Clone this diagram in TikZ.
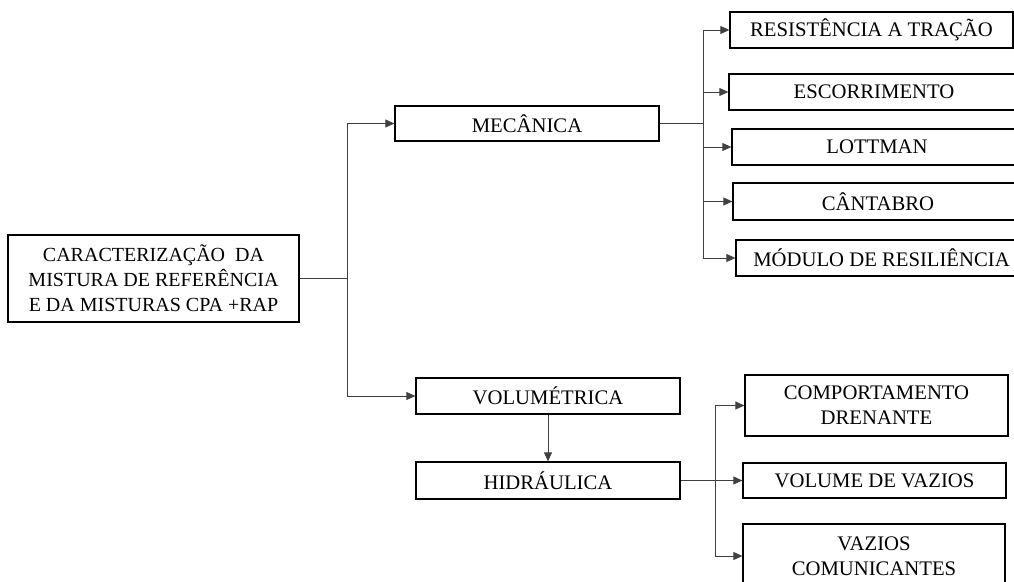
\documentclass[tikz,border=0pt]{standalone}
\usepackage{fontspec}
\setmainfont{Liberation Serif}
\usetikzlibrary{arrows.meta}
\begin{document}
\begin{tikzpicture}[x=1pt,y=-1pt,
  box/.style={draw=black,line width=1.3pt,fill=white,inner sep=0pt,align=center,
    font=\fontsize{20.7}{25}\selectfont},
  conn/.style={draw=black!75,line width=0.8pt},
  arr/.style={conn,-{Triangle[length=9pt,width=8pt]}}]
\useasboundingbox (0,0) rectangle (1014,581);
\clip (0,0) rectangle (1014,581);
% main boxes
\node[box,font=\fontsize{20}{25}\selectfont,minimum width=291,minimum height=87] (root) at (153.5,278.5)
  {CARACTERIZAÇÃO\ \ DA\\MISTURA DE REFERÊNCIA\\E DA MISTURAS CPA +RAP};
\node[box,minimum width=264,minimum height=35] (mec) at (527,123.5) {MECÂNICA};
\node[box,minimum width=264,minimum height=36] (vol) at (548,396) {VOLUMÉTRICA};
\node[box,minimum width=264,minimum height=37] (hid) at (548,480.5) {HIDRÁULICA};
% mechanical tests
\node[box,minimum width=283,minimum height=36] (res) at (871.5,30) {RESISTÊNCIA A TRAÇÃO};
\node[box,minimum width=290,minimum height=36] (esc) at (874,92) {ESCORRIMENTO};
\node[box,minimum width=290,minimum height=36] (lot) at (877,147) {LOTTMAN};
\node[box,minimum width=290,minimum height=37] (can) at (878,201.5) {CÂNTABRO};
\node[box,minimum width=291,minimum height=36] (mod) at (881.5,258) {MÓDULO DE RESILIÊNCIA};
% hydraulic tests
\node[box,minimum width=263,minimum height=61] (comp) at (876.5,405.5) {COMPORTAMENTO\\DRENANTE};
\node[box,minimum width=263,minimum height=35] (volv) at (874.5,480.5) {VOLUME DE VAZIOS};
\node[box,minimum width=262,minimum height=64] (vaz) at (874,556) {VAZIOS\\COMUNICANTES};
% junctions
\coordinate (rj) at (347,278.5);
\coordinate (mj) at (703,123.5);
\coordinate (hj) at (715,480.5);
% connectors
\draw[conn] (root.east) -- (rj);
\draw[arr] (rj) |- (mec.west);
\draw[arr] (rj) |- (vol.west);
\draw[arr] (vol.south) -- (hid.north);
\draw[conn] (mec.east) -- (mj);
\draw[arr] (mj) |- (res.west);
\draw[arr] (mj) |- (esc.west);
\draw[arr] (mj) |- (lot.west);
\draw[arr] (mj) |- (can.west);
\draw[arr] (mj) |- (mod.west);
\draw[conn] (hid.east) -- (hj);
\draw[arr] (hj) |- (comp.west);
\draw[arr] (hj) |- (volv.west);
\draw[arr] (hj) |- (vaz.west);
\end{tikzpicture}
\end{document}
